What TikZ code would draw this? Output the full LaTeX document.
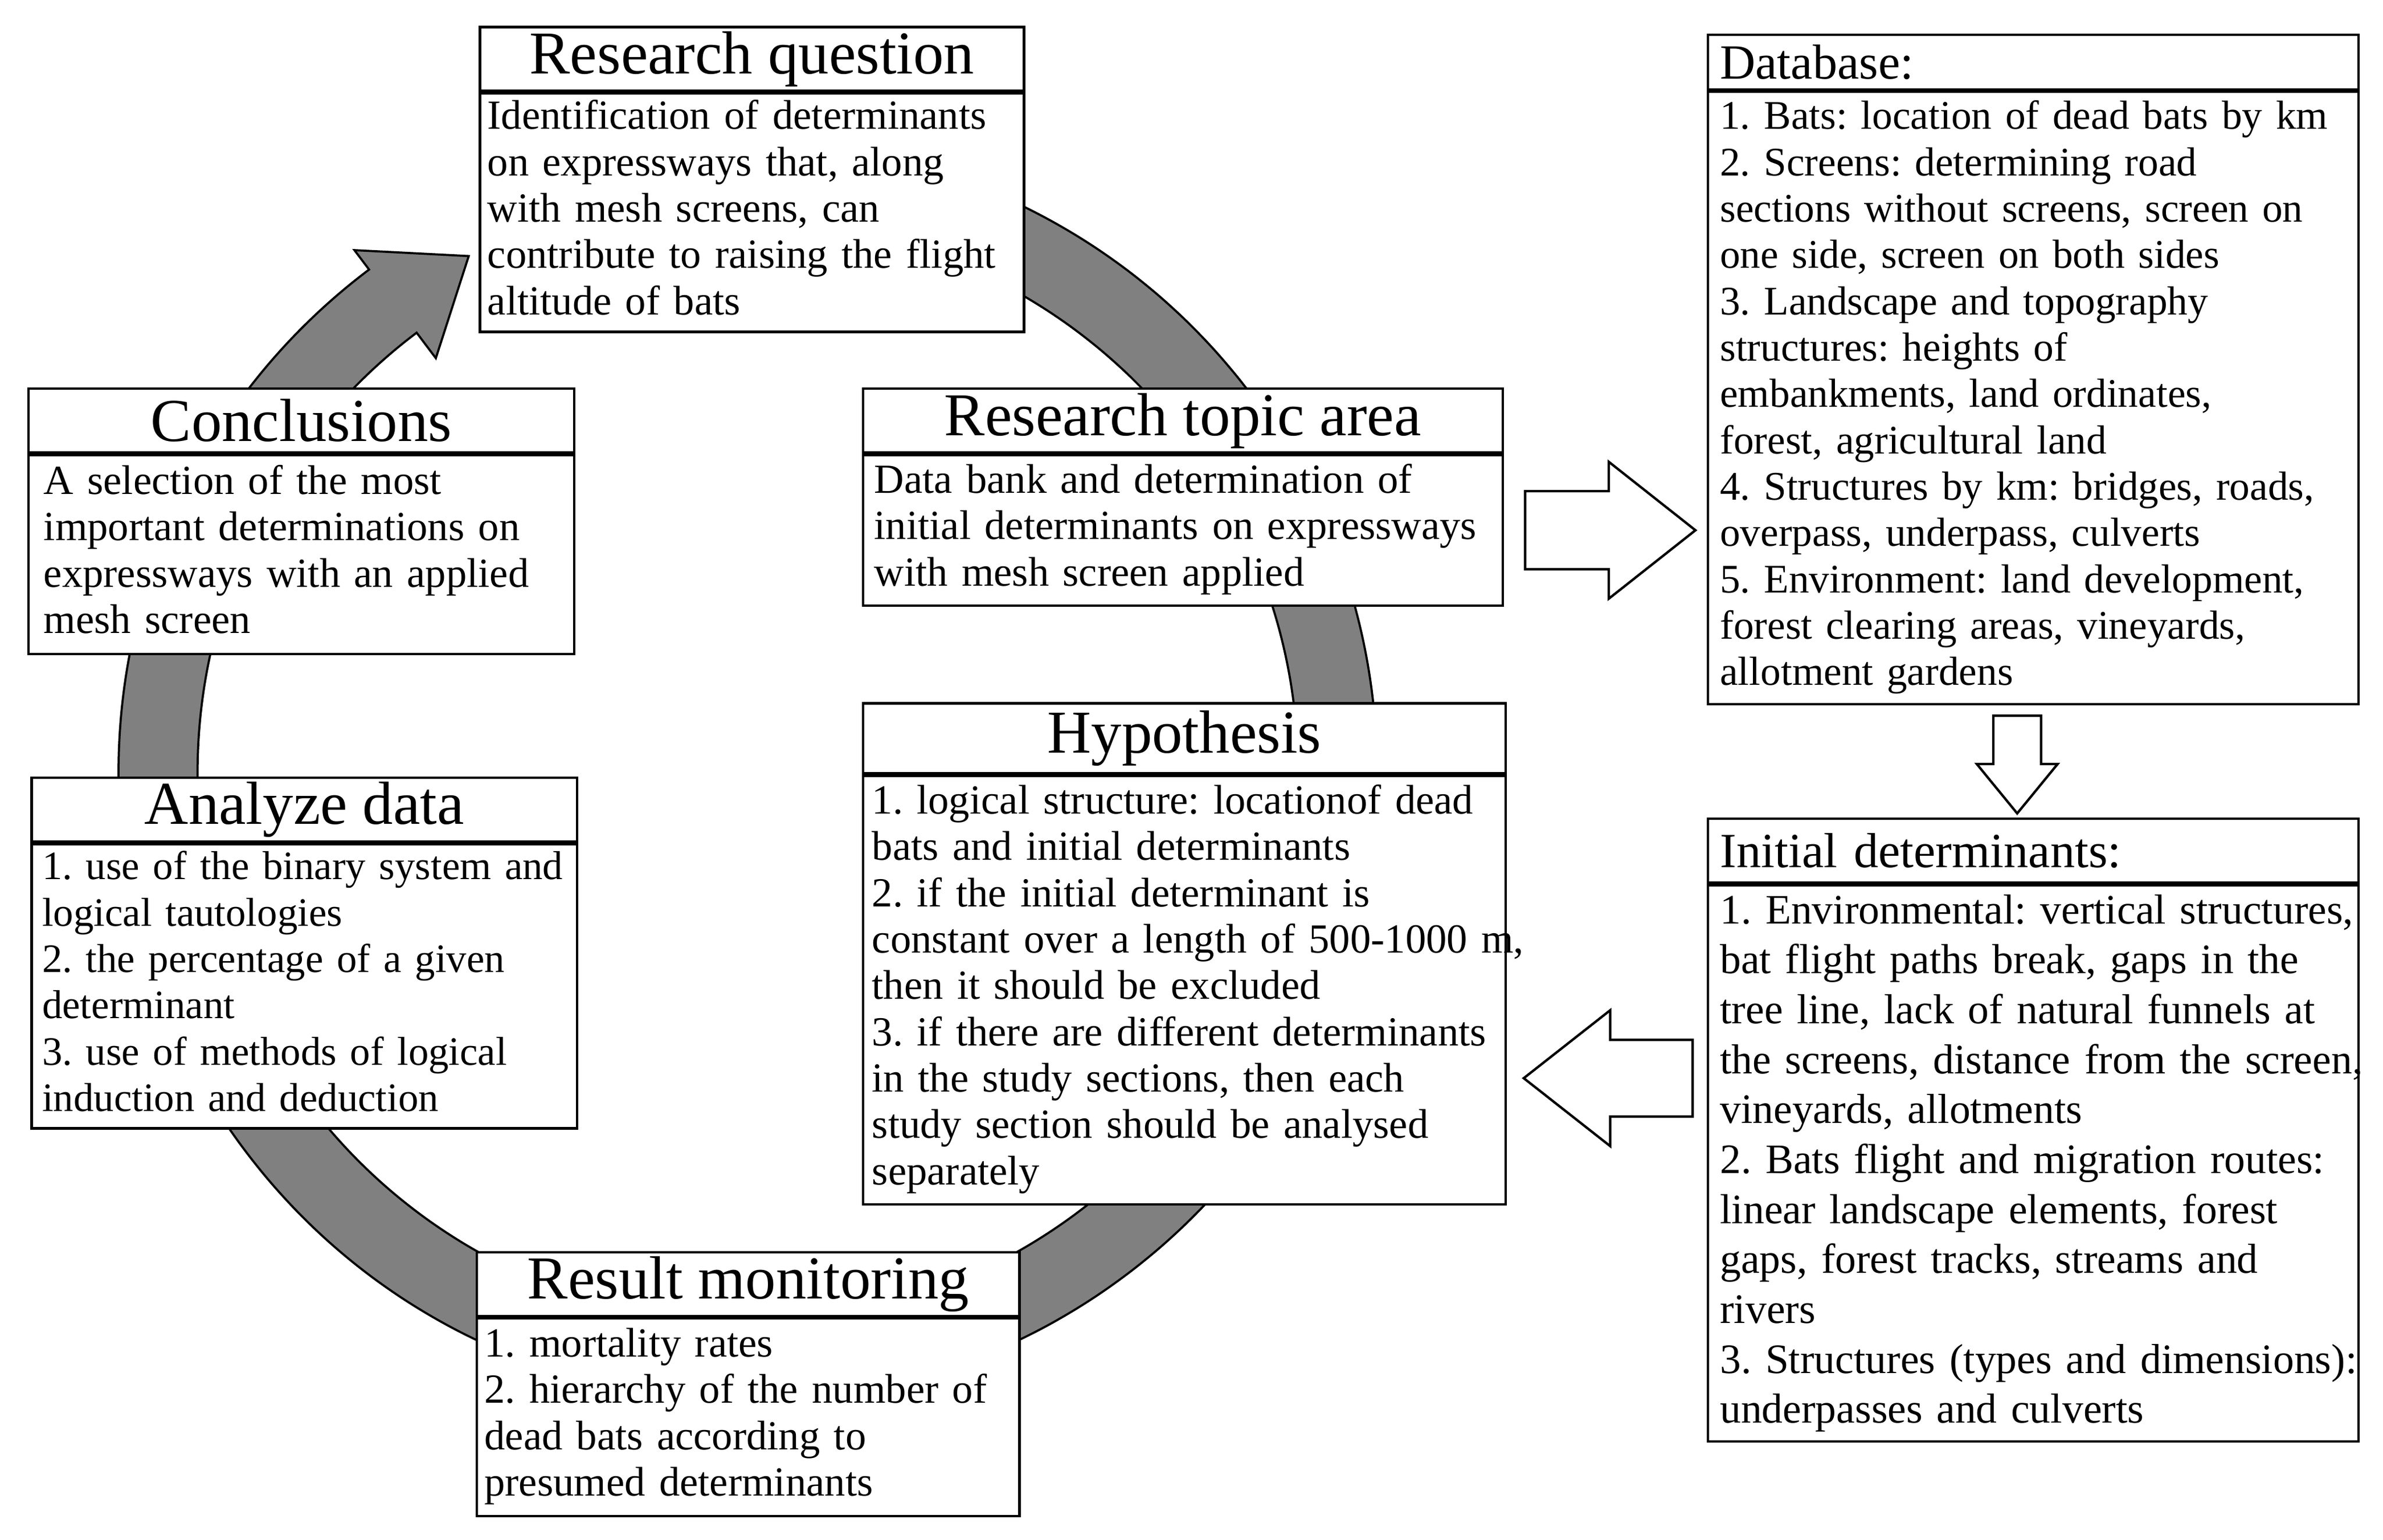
\documentclass[tikz,border=0pt]{standalone}
\usepackage{fontspec}
\setmainfont{Liberation Serif}
\usetikzlibrary{positioning}

\newcommand{\ttlfont}{\fontsize{22.8}{24}\selectfont}
\newcommand{\txtfont}{\fontsize{15.5}{17.35}\selectfont}
\newcommand{\dbfont}{\fontsize{15.2}{17.35}\selectfont}
\newcommand{\idfont}{\fontsize{15.7}{18.7}\selectfont}
\newcommand{\lhfont}{\fontsize{18.4}{20}\selectfont}
\newcommand{\rows}[1]{\begin{tabular}{@{}l@{}}#1\end{tabular}}
\frenchspacing

\begin{document}
\begin{tikzpicture}[x=0.2mm, y=0.2mm,
  ttl/.style={draw, fill=white, line width=0.9pt, inner sep=0pt, font=\ttlfont, anchor=north west},
  txt/.style={draw, fill=white, line width=0.9pt, inner xsep=1mm, inner ysep=0pt, font=\txtfont, align=left},
  blk/.style={draw, fill=white, line width=0.9pt},
  ring/.style={draw, fill=gray, line width=0.8pt}]

\useasboundingbox (0,0) rectangle (1568,-1013.2);

% cycle arrow behind the boxes
\begin{scope}[shift={(492,-508)}]
\draw[ring] (127:414) arc[start angle=127, end angle=445, radius=414]
  -- (445:362) arc[start angle=445, end angle=127, radius=362]
  -- (127:341) -- (118.4:386) -- (127:430) -- cycle;
\end{scope}

% research cycle
\node[ttl, minimum width=71.6mm, minimum height=8.4mm] (rq-t) at (315,-17) {Research question};
\node[txt, below=0pt of rq-t, minimum height=31.4mm, text width=69.6mm] (rq)
  {\rows{Identification of determinants\\ on expressways that, along\\ with mesh screens, can\\
   contribute to raising the flight\\ altitude of bats}};

\node[ttl, minimum width=71.8mm, minimum height=8.4mm] (con-t) at (18,-255) {Conclusions};
\node[txt, below=0pt of con-t, minimum height=26.2mm, inner xsep=2mm, text width=67.8mm] (con)
  {\rows{A selection of the most\\ important determinations on\\ expressways with an applied\\ mesh screen}};

\node[ttl, minimum width=84.2mm, minimum height=8.4mm] (rt-t) at (567,-255) {Research topic area};
\node[txt, below=0pt of rt-t, minimum height=19.8mm, inner xsep=1.5mm, text width=81.2mm] (rt)
  {\rows{Data bank and determination of\\ initial determinants on expressways\\ with mesh screen applied}};

\node[ttl, minimum width=84.6mm, minimum height=9.2mm] (hyp-t) at (567,-462) {Hypothesis};
\node[txt, below=0pt of hyp-t, minimum height=56.4mm, inner xsep=1.2mm, text width=82.2mm] (hyp)
  {\rows{1. logical structure: locationof dead\\ bats and initial determinants\\
   2. if the initial determinant is\\ constant over a length of 500-1000 m,\\
   then it should be excluded\\ 3. if there are different determinants\\
   in the study sections, then each\\ study section should be analysed\\ separately}};

\node[ttl, minimum width=71.8mm, minimum height=8.4mm] (ana-t) at (20,-511) {Analyze data};
\node[txt, below=0pt of ana-t, minimum height=37.4mm, inner xsep=1.4mm, text width=69mm,
  font=\fontsize{15.1}{17.35}\selectfont] (ana)
  {\rows{1. use of the binary system and\\ logical tautologies\\ 2. the percentage of a given\\
   determinant\\ 3. use of methods of logical\\ induction and deduction}};

\node[ttl, minimum width=71.4mm, minimum height=8.4mm] (res-t) at (313,-823) {Result monitoring};
\node[txt, below=0pt of res-t, minimum height=26mm, text width=69.4mm] (res)
  {\rows{1. mortality rates\\ 2. hierarchy of the number of\\ dead bats according to\\ presumed determinants}};

% data side
\node[ttl, minimum height=7.2mm, inner xsep=1.6mm, text width=82.4mm, align=left, font=\lhfont] (db-t) at (1123,-22) {Database:};
\node[txt, below=0pt of db-t, minimum height=80.6mm, inner xsep=1.6mm, text width=82.4mm, font=\dbfont] (db)
  {\rows{1. Bats: location of dead bats by km\\ 2. Screens: determining road\\
   sections without screens, screen on\\ one side, screen on both sides\\
   3. Landscape and topography\\ structures: heights of\\ embankments, land ordinates,\\
   forest, agricultural land\\ 4. Structures by km: bridges, roads,\\
   overpass, underpass, culverts\\ 5. Environment: land development,\\
   forest clearing areas, vineyards,\\ allotment gardens}};

\node[ttl, minimum height=8.4mm, inner xsep=1.6mm, text width=82.4mm, align=left, font=\lhfont] (id-t) at (1123,-538) {Initial determinants:};
\node[txt, below=0pt of id-t, minimum height=73.2mm, inner xsep=1.6mm, text width=82.4mm, font=\idfont] (id)
  {\rows{1. Environmental: vertical structures,\\ bat flight paths break, gaps in the\\
   tree line, lack of natural funnels at\\ the screens, distance from the screen,\\
   vineyards, allotments\\ 2. Bats flight and migration routes:\\
   linear landscape elements, forest\\ gaps, forest tracks, streams and\\ rivers\\
   3. Structures (types and dimensions):\\ underpasses and culverts}};

% block arrows
\draw[blk, shift={(rt.east)}] (14,25.7) -- (69,25.7) -- (69,45) -- (126,0)
  -- (69,-45) -- (69,-25.7) -- (14,-25.7) -- cycle;
\draw[blk, shift={(db.south)}] (-26.2,-6.7) -- (5.2,-6.7) -- (5.2,-38.5) -- (16.1,-38.5)
  -- (-10.5,-71) -- (-37.1,-38.5) -- (-26.2,-38.5) -- cycle;
\draw[blk, shift={(id.west)}] (-9.2,81.2) -- (-63.5,81.2) -- (-63.5,100.7) -- (-120.4,56)
  -- (-63.5,11.3) -- (-63.5,30.8) -- (-9.2,30.8) -- cycle;
\end{tikzpicture}
\end{document}
